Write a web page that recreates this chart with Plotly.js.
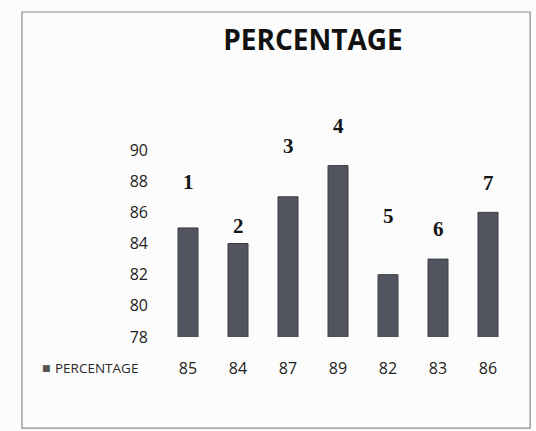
<!DOCTYPE html>
<html>
<head>
<meta charset="utf-8">
<script src="https://cdn.plot.ly/plotly-3.0.1.min.js"></script>
<style>html,body{margin:0;padding:0;background:#fcfcfc;}#chart{width:536px;height:431px;}</style>
</head>
<body>
<div id="chart"></div>
<script>
const categories = ["1", "2", "3", "4", "5", "6", "7"];
const percentage = [85, 84, 87, 89, 82, 83, 86];
const seriesName = "PERCENTAGE";
const yTicks = [78, 80, 82, 84, 86, 88, 90];

const labelShift = [46, 18, 51, 40, 59, 30, 29];

const trace = {
  type: 'bar',
  x: categories,
  y: percentage,
  name: seriesName,
  width: 0.4,
  marker: {color: '#52555f', line: {color: '#3c3e47', width: 1}},
  hoverinfo: 'none'
};

const annotations = categories.map((c, i) => ({
  x: i, y: percentage[i], xref: 'x', yref: 'y',
  text: c, showarrow: false, yanchor: 'middle', yshift: labelShift[i],
  font: {family: 'Liberation Serif', size: 21, color: '#151515', weight: 700}
}));
annotations.push({
  x: -0.066, y: -0.166, xref: 'paper', yref: 'paper', xanchor: 'right', yanchor: 'middle',
  text: seriesName, showarrow: false,
  font: {family: 'Open Sans', size: 13.5, color: '#2a2a2a'}
});
annotations.push({
  x: -0.315, y: -0.166, xref: 'paper', yref: 'paper', xanchor: 'right', yanchor: 'middle',
  text: '■', showarrow: false,
  font: {family: 'DejaVu Sans', size: 9, color: '#555'}
});

const layout = {
  width: 536, height: 431,
  margin: {l: 163, r: 23, t: 150, b: 94},
  paper_bgcolor: '#fcfcfc', plot_bgcolor: 'rgba(0,0,0,0)',
  showlegend: false,
  title: {
    text: seriesName, x: 0.584, xanchor: 'center', y: 0.907, yanchor: 'middle',
    font: {family: 'Open Sans', size: 28, color: '#111', weight: 700}
  },
  xaxis: {
    type: 'category', range: [-0.5, 6.5], showgrid: false, zeroline: false, showline: false,
    tickvals: categories, ticktext: percentage.map(String),
    ticks: '', ticklabelstandoff: 20,
    tickfont: {family: 'Open Sans', size: 16, color: '#222'}
  },
  yaxis: {
    range: [78, 90], tickvals: yTicks, showgrid: false, zeroline: false, showline: false,
    ticks: '', ticklabelstandoff: 14,
    tickfont: {family: 'Open Sans', size: 16, color: '#222'}
  },
  annotations: annotations,
  shapes: [{
    type: 'rect', xref: 'paper', yref: 'paper',
    x0: -0.403, x1: 1.049, y0: -0.487, y1: 1.738,
    line: {color: '#8a8a8a', width: 1.2}
  }]
};

Plotly.newPlot('chart', [trace], layout, {staticPlot: true, displayModeBar: false});
</script>
</body>
</html>
